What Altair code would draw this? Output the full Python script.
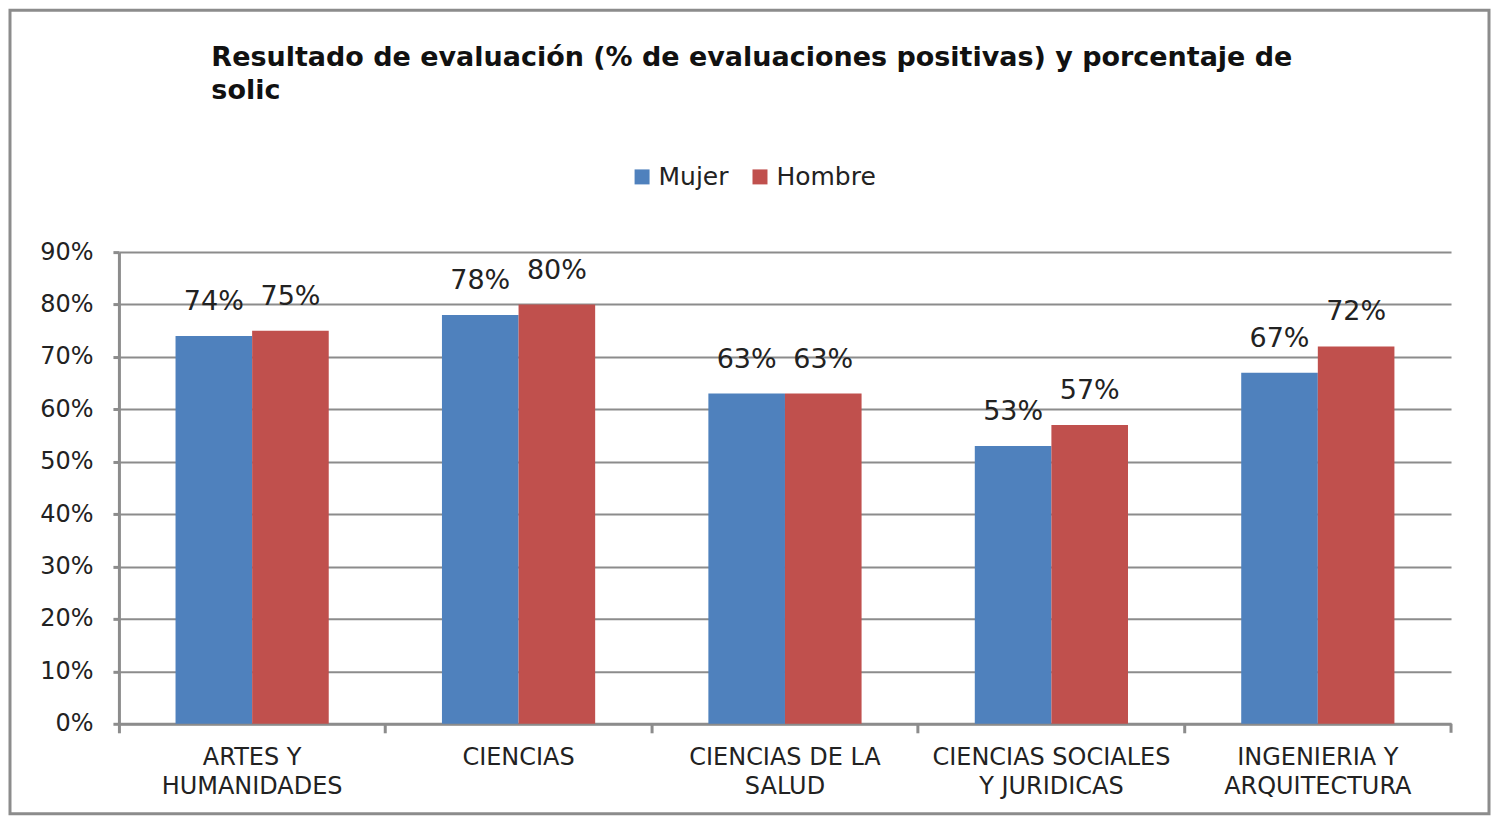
import json
import altair as alt
import pandas as pd

categories = ["ARTES Y HUMANIDADES", "CIENCIAS", "CIENCIAS DE LA SALUD",
              "CIENCIAS SOCIALES Y JURIDICAS", "INGENIERIA Y ARQUITECTURA"]
label_lines = [["ARTES Y", "HUMANIDADES"], ["CIENCIAS"], ["CIENCIAS DE LA", "SALUD"],
               ["CIENCIAS SOCIALES", "Y JURIDICAS"], ["INGENIERIA Y", "ARQUITECTURA"]]
series = ["Mujer", "Hombre"]
mujer = [0.74, 0.78, 0.63, 0.53, 0.67]
hombre = [0.75, 0.80, 0.63, 0.57, 0.72]
colors = ["#4F81BD", "#C0504D"]
y_ticks = [0.0, 0.1, 0.2, 0.3, 0.4, 0.5, 0.6, 0.7, 0.8, 0.9]
title_lines = ["Resultado de evaluación (% de evaluaciones positivas) y porcentaje de", "solic"]

rows = []
for i, c in enumerate(categories):
    rows.append({"cat": c, "serie": "Mujer", "val": mujer[i]})
    rows.append({"cat": c, "serie": "Hombre", "val": hombre[i]})
df = pd.DataFrame(rows)

expr = "datum.label"
for c, lines in reversed(list(zip(categories, label_lines))):
    expr = f"datum.label == '{c}' ? {json.dumps(lines)} : ({expr})"

W, H = 1333, 472
GRAY = "#8c8c8c"

x_enc = alt.X("cat:N", sort=categories,
              scale=alt.Scale(paddingInner=0, paddingOuter=0),
              axis=alt.Axis(title=None, labelAngle=0, labelExpr=expr, bandPosition=0,
                            labelFontSize=24, labelLineHeight=29, labelPadding=13,
                            labelLimit=400, labelColor="#222", domainColor=GRAY,
                            domainWidth=3, tickColor=GRAY, tickWidth=3, tickSize=9,
                            grid=False))
y_enc = alt.Y("val:Q", scale=alt.Scale(domain=[0, 0.9], nice=False),
              axis=alt.Axis(title=None, values=y_ticks, format=".0%", grid=True,
                            gridColor=GRAY, gridWidth=2, domainColor=GRAY, domainWidth=3,
                            tickColor=GRAY, tickWidth=3, tickSize=6, labelFontSize=24,
                            labelPadding=20, labelColor="#222"))
xo_enc = alt.XOffset("serie:N", sort=series,
                     scale=alt.Scale(paddingInner=0, paddingOuter=0.739))

base = alt.Chart(df).encode(x=x_enc, xOffset=xo_enc)

bars = base.mark_bar(width={"band": 1}).encode(
    y=y_enc,
    color=alt.Color("serie:N", sort=series,
                    scale=alt.Scale(domain=series, range=colors),
                    legend=alt.Legend(orient="none", legendX=511, legendY=-88,
                                      direction="horizontal", title=None,
                                      symbolType="square", symbolSize=225,
                                      symbolStrokeWidth=0, labelFontSize=25,
                                      labelColor="#222", columnPadding=18,
                                      labelOffset=4)),
)

labels = base.mark_text(baseline="bottom", dy=-20, fontSize=27, color="#222").encode(
    y="val:Q",
    text=alt.Text("val:Q", format=".0%"),
)

one = pd.DataFrame({"a": [0]})
end_tick = alt.Chart(one).mark_rule(color=GRAY, strokeWidth=3).encode(
    x=alt.value(W), y=alt.value(H), y2=alt.value(H + 9))
frame = alt.Chart(one).mark_rect(fillOpacity=0, stroke=GRAY, strokeWidth=3).encode(
    x=alt.value(-109), x2=alt.value(1371), y=alt.value(-242), y2=alt.value(562))

chart = alt.layer(bars, labels, end_tick, frame).properties(
    width=W, height=H,
    title=alt.Title(title_lines, anchor="start", dx=203, fontSize=27, fontWeight="bold",
                    color="#111", lineHeight=33, offset=-96),
    autosize=alt.AutoSizeParams(type="none"),
    padding={"left": 111, "top": 244, "right": 40, "bottom": 92},
).configure(font="DejaVu Sans", background="white").configure_view(stroke=None)

chart.save("out.html", embed_options={"renderer": "svg", "actions": False})
